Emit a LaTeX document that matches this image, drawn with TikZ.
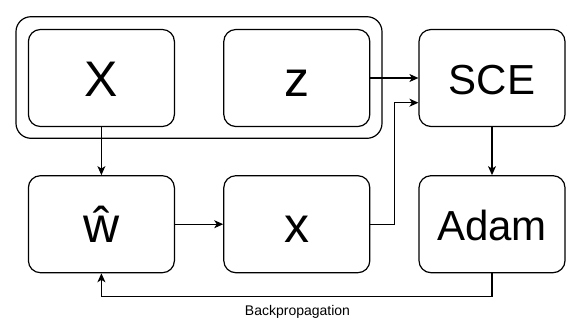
\documentclass[tikz,border=0pt]{standalone}
\usepackage{fontspec}
\setmainfont{Liberation Sans}
\usetikzlibrary{arrows.meta}
\tikzset{
  box/.style={draw, line width=1.2pt, rounded corners=12pt, minimum width=146pt, minimum height=97pt, inner sep=0pt},
  groupbox/.style={draw, line width=1.2pt, rounded corners=15pt, minimum width=366pt, minimum height=121.6pt, inner sep=0pt},
  big/.style={font=\fontsize{50}{50}\selectfont, text height=36pt, text depth=0pt},
  mid/.style={font=\fontsize{42}{42}\selectfont, text height=33pt, text depth=0pt},
  link/.style={line width=1.1pt, -{Stealth[length=9pt,width=8pt,inset=2.5pt]}}
}
\begin{document}
\begin{tikzpicture}[x=1pt,y=-1pt]
  \useasboundingbox[fill=white] (0,0) rectangle (573,322);
  % input group holding X and z
  \node[groupbox] (grp) at (199,77.5) {};
  \node[box, big] (X) at (101.4,78) {X};
  \node[box, big] (z) at (296.8,78) {z};
  \node[box, mid] (sce) at (492,78) {SCE};
  % lower row
  \node[box, big] (w) at (101.4,224.2) {ŵ};
  \node[box, big] (x) at (296.8,224.2) {x};
  \node[box, mid] (adam) at (492,224.2) {Adam};
  % routing points
  \coordinate (j) at (394.7,102.7);
  \coordinate (b) at (492,296.7);
  % connectors
  \draw[link] (X.south) -- (w.north);
  \draw[link] (z.east) -- (sce.west);
  \draw[link] (x.east) -| (j) -- (sce.west |- j);
  \draw[link] (w.east) -- (x.west);
  \draw[link] (sce.south) -- (adam.north);
  \draw[link] (adam.south) -- (b) -| (w.south);
  \node[font=\fontsize{14}{14}\selectfont] (bp) at (297.5,311.5) {Backpropagation};
\end{tikzpicture}
\end{document}
